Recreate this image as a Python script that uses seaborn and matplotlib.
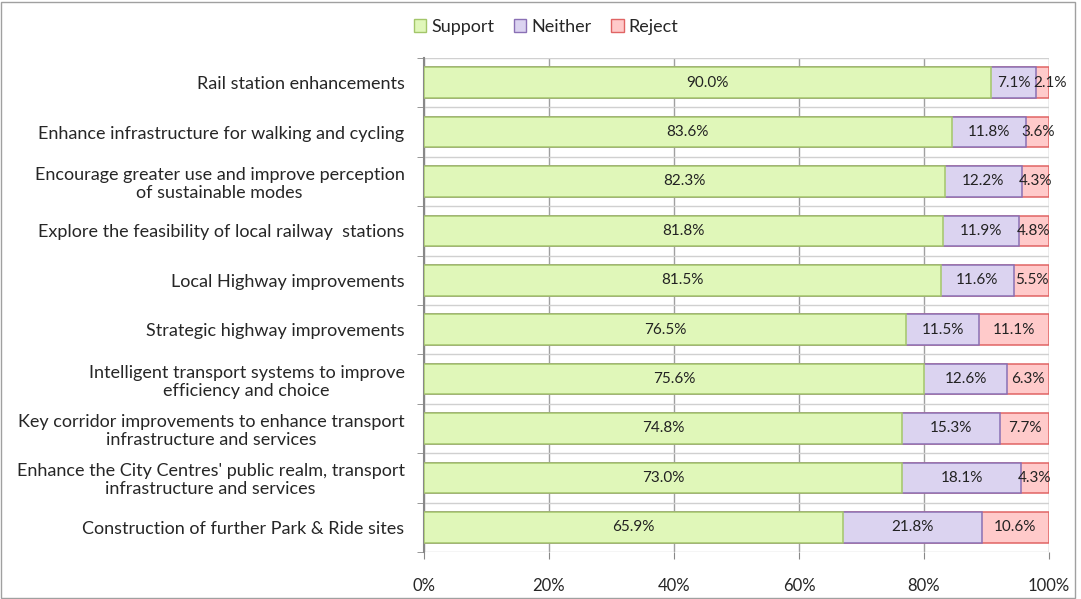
import numpy as np
import pandas as pd
import matplotlib.pyplot as plt
import seaborn as sns
from matplotlib.patches import Rectangle, Patch

categories = [
    "Rail station enhancements",
    "Enhance infrastructure for walking and cycling",
    "Encourage greater use and improve perception\nof sustainable modes",
    "Explore the feasibility of local railway  stations",
    "Local Highway improvements",
    "Strategic highway improvements",
    "Intelligent transport systems to improve\nefficiency and choice",
    "Key corridor improvements to enhance transport\ninfrastructure and services",
    "Enhance the City Centres' public realm, transport\ninfrastructure and services",
    "Construction of further Park & Ride sites",
]
support = [90.0, 83.6, 82.3, 81.8, 81.5, 76.5, 75.6, 74.8, 73.0, 65.9]
neither = [7.1, 11.8, 12.2, 11.9, 11.6, 11.5, 12.6, 15.3, 18.1, 21.8]
reject = [2.1, 3.6, 4.3, 4.8, 5.5, 11.1, 6.3, 7.7, 4.3, 10.6]

series = ["Support", "Neither", "Reject"]
fills = ["#e0f7b9", "#dbd3f0", "#ffcaca"]
edges = ["#a3c66a", "#8a70b5", "#e06464"]

df = pd.DataFrame({"cat": categories, "Support": support,
                   "Neither": neither, "Reject": reject})
tot = df[series].sum(axis=1)
# 100% stacked: normalise each row
for s in series:
    df[s + "_p"] = df[s] / tot
df["c1"] = df["Support_p"]
df["c2"] = df["Support_p"] + df["Neither_p"]
df["c3"] = df["c2"] + df["Reject_p"]

sns.set_style("white")
plt.rcParams["font.family"] = ["Lato", "DejaVu Sans"]

fig = plt.figure(figsize=(10.81, 5.99), dpi=100)
ax = fig.add_axes([0.3922, 0.0785, 0.5782, 0.8247])

for col, fc, ec in [("c3", fills[2], edges[2]), ("c2", fills[1], edges[1]),
                    ("c1", fills[0], edges[0])]:
    sns.barplot(data=df, x=col, y="cat", orient="h", color=fc, saturation=1,
                edgecolor=ec, linewidth=1.1, width=0.62, ax=ax, zorder=3)

# segment labels (narrow segments get nudged right like Excel does)
starts = [np.zeros(len(df)), df["c1"].values, df["c2"].values]
for s, st in zip(series, starts):
    for i, (v, p) in enumerate(zip(df[s], df[s + "_p"])):
        xc = st[i] + p / 2
        if p < 0.03:
            xc += 0.012
        ax.text(xc, i, f"{v:.1f}%", ha="center", va="center",
                fontsize=11, color="#222222", zorder=5)

ticks = np.arange(0, 1.01, 0.2)
ax.set_xlim(0, 1)
ax.set_ylim(len(df) - 0.5, -0.5)
ax.set_xticks(ticks)
ax.set_xticklabels([f"{int(round(t * 100))}%" for t in ticks], fontsize=12)
ax.set_yticks(np.arange(len(df)))
ax.set_yticklabels(categories, fontsize=13, multialignment="center",
                   linespacing=1.15)
ax.set_yticks(np.arange(-0.5, len(df), 1), minor=True)
ax.set_xlabel("")
ax.set_ylabel("")
ax.grid(axis="x", color="#a0a0a0", linewidth=1, zorder=0)
ax.grid(axis="y", which="minor", color="#d0d0d0", linewidth=1, zorder=0)
ax.grid(axis="y", which="major", visible=False)
ax.tick_params(axis="y", which="major", length=0, pad=14)
ax.tick_params(axis="y", which="minor", length=5, color="#888888", left=True)
ax.tick_params(axis="x", length=5, color="#888888", pad=14, bottom=True)
for sp in ax.spines.values():
    sp.set_visible(False)
ax.spines["left"].set_visible(True)
ax.spines["left"].set_color("#888888")
ax.spines["left"].set_linewidth(1.5)
ax.set_axisbelow(True)

handles = [Patch(facecolor=f, edgecolor=e, label=s)
           for s, f, e in zip(series, fills, edges)]
fig.legend(handles=handles, loc="center", bbox_to_anchor=(0.505, 0.955),
           ncol=3, frameon=False, fontsize=13, handlelength=0.7,
           handleheight=0.7, handletextpad=0.25, columnspacing=1.1)

fig.add_artist(Rectangle((0.001, 0.002), 0.993, 0.995, transform=fig.transFigure,
                         fill=False, edgecolor="#a0a0a0", linewidth=1))

fig.savefig("out.png", dpi=100)
